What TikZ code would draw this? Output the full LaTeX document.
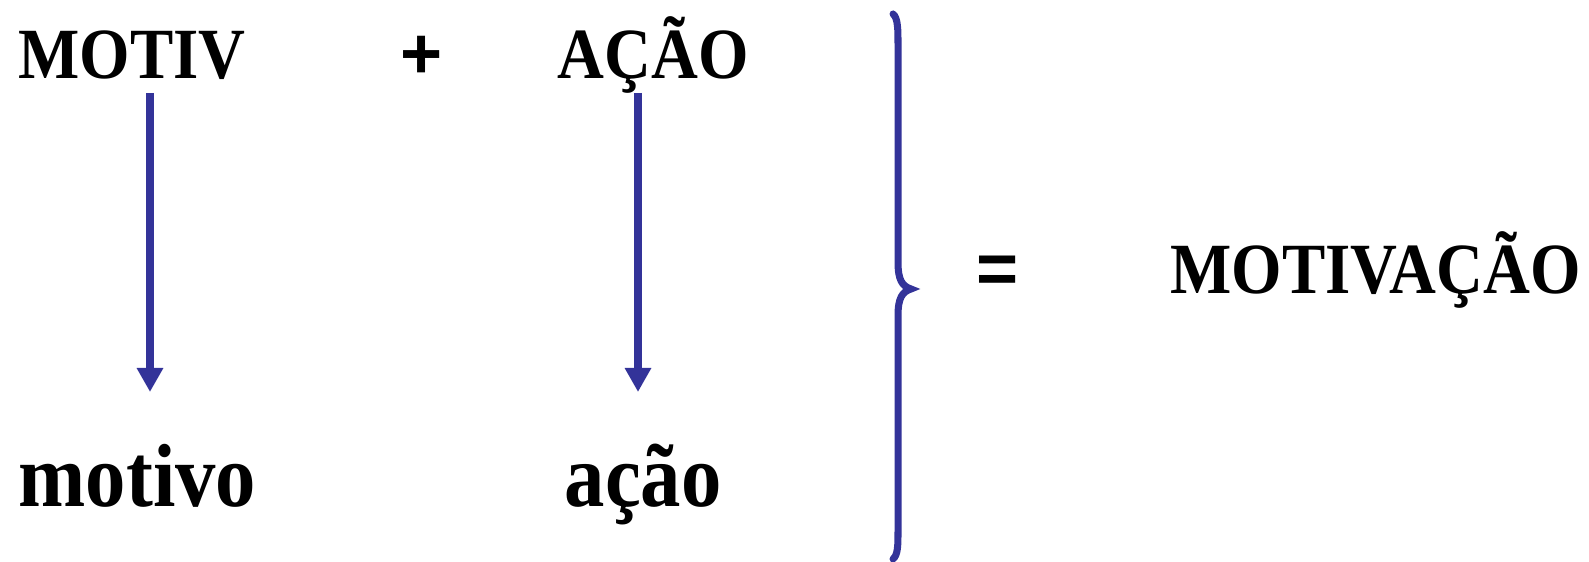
\documentclass[tikz,border=0pt]{standalone}
\usepackage{fontspec}
\setmainfont{Liberation Serif}[FakeStretch=0.9]
\newfontfamily\sinal{Liberation Sans}
\usepackage{tikz}
\usetikzlibrary{arrows.meta}
\definecolor{azul}{RGB}{51,51,153}

\begin{document}
\begin{tikzpicture}[x=0.01cm, y=-0.01cm,
    font=\fontsize{20.5}{24}\selectfont\bfseries,
    palavra/.style={inner sep=0pt, anchor=base west},
    minuscula/.style={palavra, font=\fontsize{25.5}{29}\selectfont\bfseries},
    operador/.style={inner sep=0pt, anchor=base, font=\fontsize{20.5}{24}\selectfont\sinal\bfseries},
    seta/.style={azul, line width=2pt, -{Triangle[width=0.25cm,length=0.24cm]}},
    chave/.style={azul, line width=2pt, line cap=round}]
  \useasboundingbox (0,0) rectangle (1589,562);
  \node[palavra] (motiv) at (18,79) {MOTIV};
  \node[operador] (mais) at (422,79) {+};
  \node[palavra] (acao) at (557,79) {AÇÃO};
  \node[minuscula] (motivo) at (18,507) {motivo};
  \node[minuscula] (acaomin) at (564,507) {ação};
  \node[operador] (igual) at (998,294) {=};
  \node[palavra] (motivacao) at (1170,294) {MOTIVAÇÃO};
  % setas
  \coordinate (ini1) at (150,93);
  \coordinate (fim1) at (150,392);
  \coordinate (ini2) at (638,93);
  \coordinate (fim2) at (638,392);
  \draw[seta] (ini1) -- (fim1);
  \draw[seta] (ini2) -- (fim2);
  % chave
  \draw[chave] (893,14) .. controls (898,18) and (898,30) .. (898,45) -- (898,262)
    .. controls (898,280) and (902,286) .. (911,289)
    .. controls (902,292) and (898,298) .. (898,316) -- (898,530)
    .. controls (898,545) and (898,555) .. (893,559);
\end{tikzpicture}
\end{document}
